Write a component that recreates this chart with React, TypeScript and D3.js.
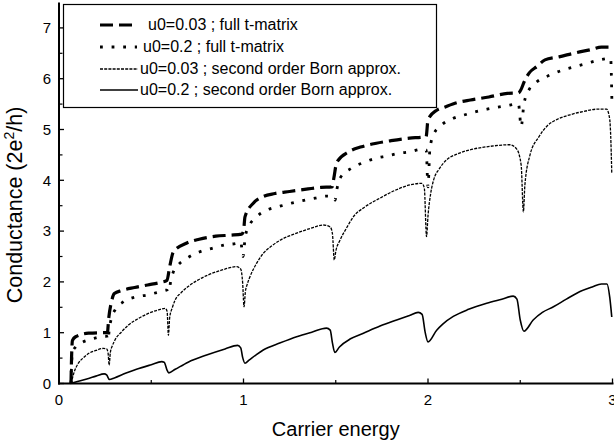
import React from 'react';
import * as d3 from 'd3';

const xTickValues = [0, 1, 2, 3];
const xMinorValues = [0.5, 1.5, 2.5];
const yTickValues = [0, 1, 2, 3, 4, 5, 6, 7];
const yMinorValues = [0.5, 1.5, 2.5, 3.5, 4.5, 5.5, 6.5];

const xLabel = 'Carrier energy';
const yLabelMain = 'Conductance (2e';
const yLabelSup = '2';
const yLabelEnd = '/h)';

const legendLabels = [
  'u0=0.03 ; full t-matrix',
  'u0=0.2 ; full t-matrix',
  'u0=0.03 ; second order Born approx.',
  'u0=0.2 ; second order Born approx.',
];

// u0=0.03 ; full t-matrix  [energy, conductance]
const fullU003: [number, number][] = [
  [0.065, 0], [0.068, 0.5], [0.073, 0.85], [0.09, 0.92], [0.16, 0.99], [0.24, 1.0], [0.262, 1.0],
  [0.27, 1.3], [0.285, 1.62], [0.3, 1.77], [0.34, 1.83], [0.41, 1.89], [0.48, 1.94], [0.55, 1.99], [0.585, 2.03],
  [0.6, 2.3], [0.62, 2.59], [0.69, 2.76], [0.76, 2.84], [0.85, 2.9], [0.93, 2.92], [0.99, 2.94],
  [1.0, 3.0], [1.008, 3.28], [1.053, 3.55], [1.1, 3.67], [1.17, 3.74], [1.25, 3.78], [1.35, 3.83], [1.42, 3.86], [1.48, 3.87],
  [1.49, 4.05], [1.505, 4.35], [1.57, 4.56], [1.64, 4.66], [1.72, 4.73], [1.8, 4.78], [1.9, 4.83], [1.97, 4.85],
  [1.99, 4.86], [2.0, 5.19], [2.047, 5.38], [2.09, 5.44], [2.16, 5.53], [2.23, 5.58], [2.33, 5.64], [2.43, 5.71], [2.49, 5.72],
  [2.5, 5.76], [2.525, 5.97], [2.55, 6.12], [2.59, 6.24], [2.634, 6.37], [2.71, 6.43], [2.8, 6.51], [2.88, 6.57], [2.94, 6.62], [3.0, 6.62],
];

// u0=0.2 ; full t-matrix
const fullU02: [number, number][] = [
  [0.065, 0], [0.068, 0.35], [0.072, 0.6], [0.09, 0.72], [0.12, 0.8], [0.16, 0.86], [0.2, 0.9], [0.24, 0.93], [0.258, 0.93],
  [0.266, 0.85], [0.272, 1.05], [0.285, 1.3], [0.304, 1.45], [0.35, 1.61], [0.41, 1.7], [0.475, 1.74], [0.53, 1.79], [0.584, 1.84],
  [0.595, 1.8], [0.605, 2.0], [0.62, 2.2], [0.638, 2.3], [0.7, 2.48], [0.76, 2.59], [0.83, 2.66], [0.9, 2.73], [0.963, 2.76], [0.985, 2.79],
  [0.997, 2.5], [1.01, 2.9], [1.03, 3.1], [1.07, 3.28], [1.13, 3.42], [1.198, 3.49], [1.26, 3.55], [1.32, 3.6], [1.388, 3.65], [1.45, 3.69], [1.485, 3.68],
  [1.496, 3.61], [1.505, 3.8], [1.523, 4.04], [1.586, 4.24], [1.65, 4.35], [1.713, 4.43], [1.78, 4.48], [1.84, 4.53], [1.9, 4.56], [1.966, 4.61], [1.99, 4.6],
  [2.0, 3.87], [2.01, 4.6], [2.03, 4.9], [2.065, 5.06], [2.137, 5.22], [2.2, 5.29], [2.26, 5.35], [2.32, 5.4], [2.38, 5.44], [2.444, 5.48], [2.49, 5.51],
  [2.505, 5.06], [2.52, 5.5], [2.55, 5.8], [2.59, 5.94], [2.66, 6.07], [2.73, 6.17], [2.797, 6.24], [2.86, 6.3], [2.93, 6.37], [2.99, 6.4], [2.997, 5.5],
];

// u0=0.03 ; second order Born approx.
const bornU003: [number, number][] = [
  [0.066, 0], [0.08, 0.2], [0.105, 0.4], [0.13, 0.5], [0.16, 0.59], [0.2, 0.65], [0.24, 0.69], [0.258, 0.68], [0.266, 0.6],
  [0.272, 0.36], [0.278, 0.6], [0.29, 0.75], [0.304, 0.86], [0.34, 1.02], [0.376, 1.15], [0.43, 1.28], [0.484, 1.38], [0.54, 1.45], [0.575, 1.48], [0.586, 1.42],
  [0.593, 0.95], [0.6, 1.3], [0.615, 1.5], [0.629, 1.64], [0.66, 1.78], [0.7, 1.91], [0.75, 2.03], [0.81, 2.14], [0.88, 2.23], [0.963, 2.3], [0.985, 2.25], [0.995, 2.0],
  [1.003, 1.51], [1.01, 1.8], [1.02, 1.95], [1.035, 2.1], [1.07, 2.36], [1.107, 2.56], [1.15, 2.7], [1.198, 2.82], [1.288, 2.96], [1.36, 3.05], [1.433, 3.12], [1.47, 3.08], [1.482, 2.95],
  [1.492, 2.43], [1.5, 2.6], [1.523, 2.82], [1.56, 3.07], [1.595, 3.28], [1.66, 3.48], [1.74, 3.65], [1.82, 3.8], [1.902, 3.91], [1.966, 3.94], [1.98, 3.85],
  [1.992, 2.89], [2.0, 3.3], [2.015, 3.75], [2.03, 4.0], [2.06, 4.22], [2.1, 4.4], [2.16, 4.52], [2.228, 4.6], [2.34, 4.67], [2.444, 4.7], [2.48, 4.62], [2.505, 4.3],
  [2.517, 3.38], [2.525, 3.9], [2.553, 4.5], [2.6, 4.85], [2.643, 5.06], [2.7, 5.2], [2.77, 5.29], [2.85, 5.36], [2.914, 5.4], [2.968, 5.4], [2.985, 5.2], [2.99, 4.9], [2.996, 4.14],
];

// u0=0.2 ; second order Born approx.
const bornU02: [number, number][] = [
  [0.062, 0], [0.1, 0.04], [0.16, 0.1], [0.2, 0.145], [0.245, 0.19], [0.258, 0.17],
  [0.273, 0.08], [0.3, 0.11], [0.36, 0.2], [0.42, 0.28], [0.5, 0.37], [0.557, 0.43], [0.57, 0.42], [0.585, 0.27],
  [0.595, 0.21], [0.63, 0.28], [0.7, 0.42], [0.8, 0.56], [0.9, 0.68], [0.968, 0.75], [0.985, 0.7], [0.995, 0.52],
  [1.008, 0.4], [1.03, 0.46], [1.07, 0.57], [1.107, 0.66], [1.2, 0.8], [1.288, 0.92], [1.37, 1.01], [1.45, 1.09], [1.47, 1.05], [1.482, 0.8],
  [1.495, 0.61], [1.52, 0.72], [1.58, 0.88], [1.65, 0.99], [1.74, 1.13], [1.83, 1.25], [1.9, 1.34], [1.947, 1.4], [1.968, 1.36], [1.985, 1.0],
  [2.0, 0.82], [2.047, 1.05], [2.08, 1.17], [2.137, 1.32], [2.22, 1.46], [2.318, 1.58], [2.4, 1.66], [2.462, 1.72], [2.482, 1.66], [2.5, 1.25],
  [2.52, 1.03], [2.57, 1.25], [2.62, 1.4], [2.68, 1.51], [2.75, 1.66], [2.824, 1.81], [2.89, 1.9], [2.94, 1.96], [2.97, 1.96], [2.985, 1.7], [2.996, 1.31],
];

const FONT = '"Liberation Sans", Arial, Helvetica, sans-serif';

const seriesStyles = [
  { data: fullU003, width: 3.2, dash: '13 6' },
  { data: fullU02, width: 2.8, dash: '2.8 8.8' },
  { data: bornU003, width: 1.3, dash: '3 1.2' },
  { data: bornU02, width: 1.6, dash: undefined as string | undefined },
];

export default function App() {
  const W = 614;
  const H = 445;
  const x = d3.scaleLinear().domain([0, 3]).range([59, 612.5]);
  const y = d3.scaleLinear().domain([0, 7.5]).range([383.5, 2.5]);
  const line = d3
    .line<[number, number]>()
    .x((d) => x(d[0]))
    .y((d) => y(d[1]))
    .curve(d3.curveMonotoneX);

  const legendRows = [25, 47, 69, 90];
  const legendSample = [
    { x1: 100, x2: 134, tx: 148 },
    { x1: 100, x2: 137, tx: 143 },
    { x1: 100, x2: 138, tx: 140 },
    { x1: 100, x2: 138, tx: 140 },
  ];

  return (
    <svg
      width={W}
      height={H}
      viewBox={`0 0 ${W} ${H}`}
      style={{ position: 'absolute', left: 0, top: 0, background: '#fff' }}
      fontFamily={FONT}
    >
      <rect x={0} y={0} width={W} height={H} fill="#fff" />
      {seriesStyles.map((s, i) => (
        <path
          key={i}
          d={line(s.data) || ''}
          fill="none"
          stroke="#000"
          strokeWidth={s.width}
          strokeDasharray={s.dash}
          strokeLinejoin="round"
        />
      ))}

      {/* axes */}
      <line x1={x(0)} x2={x(0)} y1={y(0) + 1} y2={y(7.5)} stroke="#000" strokeWidth={2} />
      <line x1={x(0) - 1} x2={x(3) + 1} y1={y(0)} y2={y(0)} stroke="#000" strokeWidth={2} />
      {yTickValues.map((v) => (
        <g key={'yt' + v}>
          <line x1={x(0)} x2={x(0) + 5} y1={y(v)} y2={y(v)} stroke="#000" strokeWidth={1.3} />
          <text x={51} y={y(v) + 5.3} textAnchor="end" fontSize={15}>
            {v}
          </text>
        </g>
      ))}
      {yMinorValues.map((v) => (
        <line key={'ym' + v} x1={x(0)} x2={x(0) + 3.5} y1={y(v)} y2={y(v)} stroke="#000" strokeWidth={1.2} />
      ))}
      {xTickValues.map((v) => (
        <g key={'xt' + v}>
          <line x1={x(v)} x2={x(v)} y1={y(0)} y2={y(0) - 5} stroke="#000" strokeWidth={1.3} />
          <text x={x(v)} y={404.5} textAnchor="middle" fontSize={15}>
            {v}
          </text>
        </g>
      ))}
      {xMinorValues.map((v) => (
        <line key={'xm' + v} x1={x(v)} x2={x(v)} y1={y(0)} y2={y(0) - 3.5} stroke="#000" strokeWidth={1.2} />
      ))}

      {/* axis titles */}
      <text x={(x(0) + x(3)) / 2} y={436} textAnchor="middle" fontSize={20}>
        {xLabel}
      </text>
      <text transform="translate(22,205) rotate(-90)" textAnchor="middle" fontSize={21.5}>
        {yLabelMain}
        <tspan fontSize={14} dy={-8}>
          {yLabelSup}
        </tspan>
        <tspan dy={8}>{yLabelEnd}</tspan>
      </text>

      {/* legend */}
      <rect x={63.5} y={4.5} width={373} height={103} fill="#fff" stroke="#000" strokeWidth={1.2} />
      {legendLabels.map((lab, i) => (
        <g key={'lg' + i}>
          <line
            x1={legendSample[i].x1}
            x2={legendSample[i].x2}
            y1={legendRows[i]}
            y2={legendRows[i]}
            stroke="#000"
            strokeWidth={seriesStyles[i].width}
            strokeDasharray={seriesStyles[i].dash}
          />
          <text x={legendSample[i].tx} y={legendRows[i] + 5.3} fontSize={16}>
            {lab}
          </text>
        </g>
      ))}
    </svg>
  );
}
